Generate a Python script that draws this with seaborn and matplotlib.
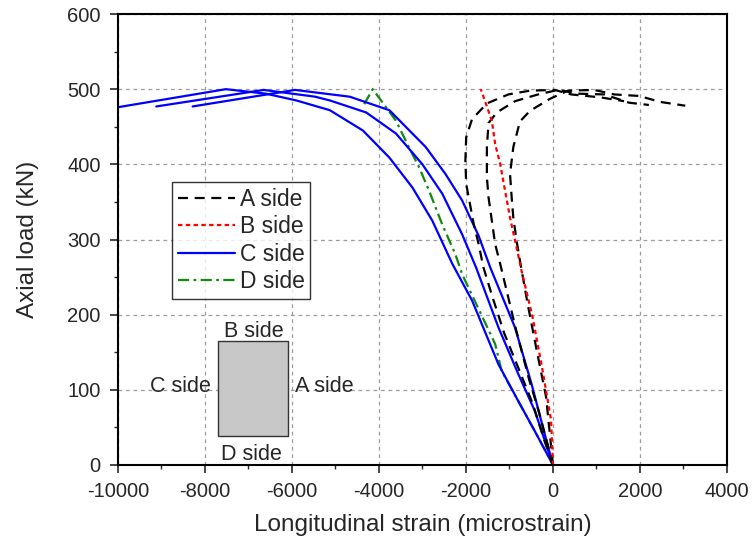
import pandas as pd
import matplotlib.pyplot as plt
import matplotlib.patches as mpatches
import seaborn as sns

# A side (three gauges), strain in microstrain, load in kN
a1_strain = [0, -200, -470, -775, -1120, -1400, -1600, -1710, -1824, -1996, -2014, -1996, -1862,
             -1520, -1026, -532, 38, 418, 1102, 1634]
a1_load = [0, 33, 82, 126, 175, 225, 263, 294, 321, 374, 405, 436, 460, 481, 493, 498, 499, 493, 489, 484]
a2_strain = [0, -315, -545, -850, -1216, -1330, -1406, -1482, -1520, -1520, -1482, -1292, -874, -342,
             114, 570, 1178, 1748, 2204]
a2_load = [0, 69, 113, 180, 268, 294, 325, 356, 383, 423, 455, 469, 484, 493, 499, 494, 493, 482, 479]
a3_strain = [0, -160, -390, -585, -760, -836, -912, -950, -988, -912, -760, -532, -76, 342, 950, 1406,
             1976, 2470, 3040]
a3_load = [0, 91, 157, 215, 272, 298, 329, 356, 387, 423, 457, 471, 487, 498, 499, 493, 491, 483, 478]

# B side
b_strain = [0, -45, -240, -470, -722, -836, -988, -1102, -1216, -1330, -1406, -1660]
b_load = [0, 60, 126, 197, 258, 289, 329, 365, 401, 427, 458, 500]

# C side (three gauges)
c1_strain = [-10000, -7520, -6600, -5900, -5130, -4370, -3762, -3230, -2774, -2318, -1862, -1254,
             -798, -418, 0]
c1_load = [476, 500, 494, 485, 472, 445, 409, 369, 325, 268, 219, 134, 85, 45, 0]
c2_strain = [-9120, -6650, -5470, -5130, -4294, -3610, -3002, -2546, -2090, -1770, -1254, -798,
             -418, 0]
c2_load = [477, 499, 490, 485, 469, 441, 400, 361, 307, 263, 183, 121, 72, 0]
c3_strain = [-8284, -5930, -4674, -3762, -2926, -2470, -2090, -1710, -1444, -874, -494, -190, 0]
c3_load = [477, 499, 490, 472, 423, 387, 352, 305, 263, 183, 108, 41, 0]

# D side
d_strain = [-4340, -4145, -3610, -3306, -3078, -2850, -2546, -2242, -2090, -1330, -1180, -798, -418, 0]
d_load = [480, 500, 458, 422, 396, 365, 320, 280, 254, 161, 125, 85, 45, 0]

xticks = list(range(-10000, 4001, 2000))
yticks = list(range(0, 601, 100))

sns.set_style('white')
plt.rcParams['font.family'] = ['Liberation Sans', 'DejaVu Sans']
plt.rcParams['axes.unicode_minus'] = False

fig = plt.figure(figsize=(7.55, 5.44), dpi=100)
ax = fig.add_axes([118 / 755, 1 - 465 / 544, 609 / 755, 451 / 544])

lw = 1.6
sns.lineplot(x=d_strain, y=d_load, sort=False, estimator=None, color='#108a10', lw=lw,
             linestyle=(0, (5, 2, 1.2, 2)), label='D side', ax=ax)
for i, (xs, ys) in enumerate([(c1_strain, c1_load), (c2_strain, c2_load), (c3_strain, c3_load)]):
    sns.lineplot(x=xs, y=ys, sort=False, estimator=None, color='#0000ff', lw=lw,
                 linestyle='-', label='C side' if i == 0 else None, ax=ax)
for i, (xs, ys) in enumerate([(a1_strain, a1_load), (a2_strain, a2_load), (a3_strain, a3_load)]):
    sns.lineplot(x=xs, y=ys, sort=False, estimator=None, color='black', lw=lw,
                 linestyle=(0, (4.5, 3)), label='A side' if i == 0 else None, ax=ax)
sns.lineplot(x=b_strain, y=b_load, sort=False, estimator=None, color='#ff0000', lw=lw,
             linestyle=(0, (2, 1.5)), label='B side', ax=ax)

ax.set_xlim(-10000, 4000)
ax.set_ylim(0, 600)
ax.set_xticks(xticks)
ax.set_yticks(yticks)
ax.set_xticks(range(-9000, 4000, 2000), minor=True)
ax.set_yticks(range(50, 600, 100), minor=True)
ax.tick_params(axis='both', which='major', direction='out', length=5.5, width=1.2, labelsize=14.5,
               bottom=True, left=True)
ax.tick_params(axis='x', which='major', pad=7)
ax.tick_params(axis='y', which='major', pad=7)
ax.tick_params(axis='both', which='minor', direction='out', length=3, width=1.0, bottom=True, left=True)
ax.grid(True, which='major', color='#a09aa0', linestyle=(0, (3, 3)), linewidth=0.9)
for s in ax.spines.values():
    s.set_color('black')
    s.set_linewidth(1.5)

ax.set_xlabel('Longitudinal strain (microstrain)', fontsize=17.5, labelpad=9)
ax.set_ylabel('Axial load (kN)', fontsize=17.5, labelpad=20)

# legend in A, B, C, D order
handles, labels = ax.get_legend_handles_labels()
order = ['A side', 'B side', 'C side', 'D side']
hmap = dict(zip(labels, handles))
leg = ax.legend([hmap[k] for k in order], order, loc='upper left', bbox_to_anchor=(0.0887, 0.6275),
                borderaxespad=0, fontsize=16.5, frameon=True, fancybox=False, edgecolor='black',
                handlelength=2.5, handletextpad=0.2, labelspacing=0.2, borderpad=0.25)
leg.get_frame().set_linewidth(1.0)

# cross-section sketch
ax.add_patch(mpatches.Rectangle((-7700, 38), 1600, 127, facecolor='#c8c8c8', edgecolor='#333333',
                                lw=1.0, zorder=3))
ax.text(-6870, 177, 'B side', ha='center', va='center', fontsize=15.5)
ax.text(-6940, 14, 'D side', ha='center', va='center', fontsize=15.5)
ax.text(-8560, 104, 'C side', ha='center', va='center', fontsize=15.5)
ax.text(-5930, 104, 'A side', ha='left', va='center', fontsize=15.5)

plt.savefig('out.png', dpi=100)
